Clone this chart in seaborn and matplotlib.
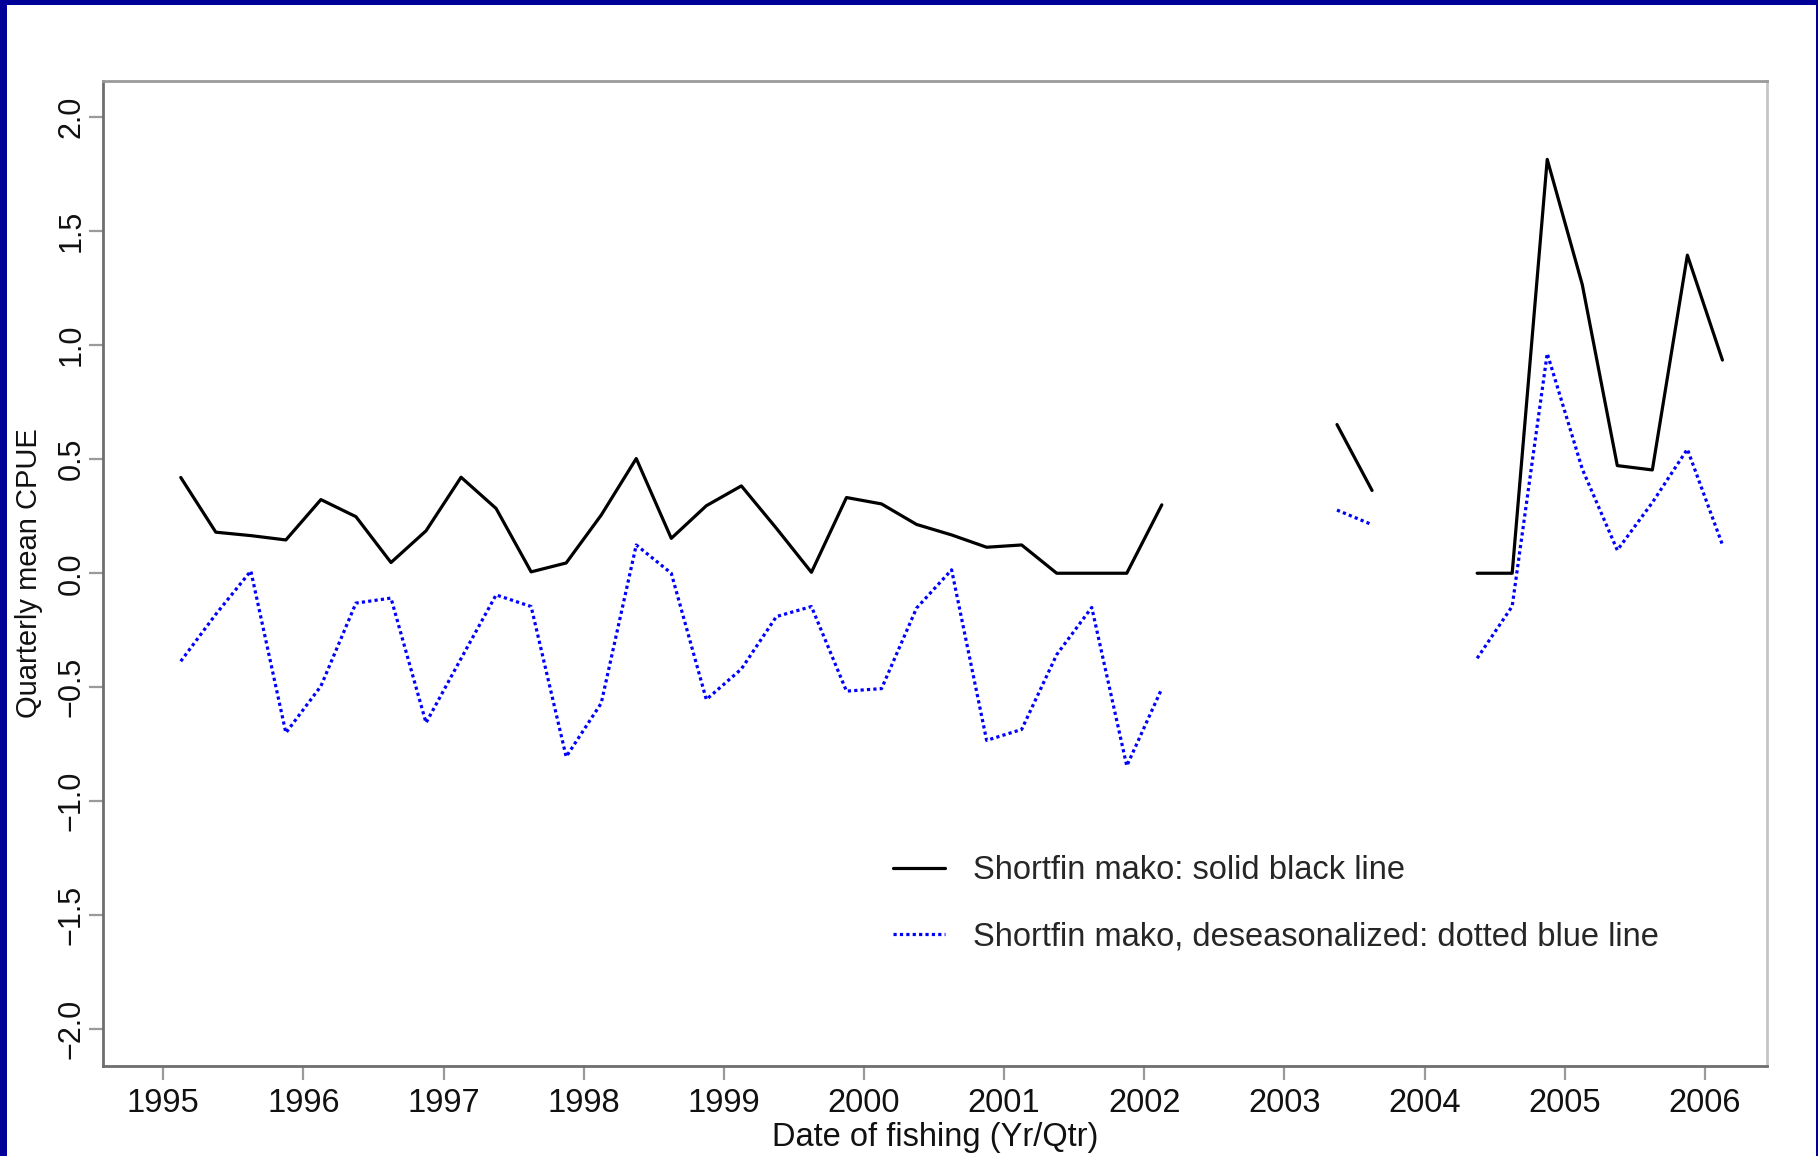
import numpy as np
import pandas as pd
import matplotlib
matplotlib.use("Agg")
import matplotlib.pyplot as plt
from matplotlib.lines import Line2D
from matplotlib.patches import Rectangle
import seaborn as sns

# ---------------- data ----------------
quarter_dates = [
    1995.125, 1995.375, 1995.625, 1995.875,
    1996.125, 1996.375, 1996.625, 1996.875,
    1997.125, 1997.375, 1997.625, 1997.875,
    1998.125, 1998.375, 1998.625, 1998.875,
    1999.125, 1999.375, 1999.625, 1999.875,
    2000.125, 2000.375, 2000.625, 2000.875,
    2001.125, 2001.375, 2001.625, 2001.875,
    2002.125, 2002.375, 2002.625, 2002.875,
    2003.125, 2003.375, 2003.625, 2003.875,
    2004.125, 2004.375, 2004.625, 2004.875,
    2005.125, 2005.375, 2005.625, 2005.875,
    2006.125,
]
nan = np.nan
cpue_raw = [
    0.42, 0.18, 0.165, 0.146,
    0.323, 0.248, 0.047, 0.186,
    0.421, 0.284, 0.006, 0.045,
    0.255, 0.503, 0.153, 0.296,
    0.383, 0.197, 0.004, 0.332,
    0.304, 0.214, 0.168, 0.114,
    0.124, 0.0, 0.0, 0.0,
    0.30, nan, nan, nan,
    nan, 0.652, 0.363, nan,
    nan, 0.0, 0.0, 1.815,
    1.266, 0.472, 0.453, 1.395,
    0.935,
]
cpue_deseason = [
    -0.386, -0.18, 0.01, -0.70,
    -0.495, -0.131, -0.109, -0.656,
    -0.374, -0.095, -0.146, -0.805,
    -0.57, 0.124, 0.0, -0.554,
    -0.42, -0.19, -0.146, -0.517,
    -0.506, -0.153, 0.015, -0.733,
    -0.685, -0.357, -0.15, -0.845,
    -0.506, nan, nan, nan,
    nan, 0.277, 0.213, nan,
    nan, -0.373, -0.145, 0.964,
    0.457, 0.101, 0.31, 0.544,
    0.125,
]
x_ticks = [1995, 1996, 1997, 1998, 1999, 2000, 2001, 2002, 2003, 2004, 2005, 2006]
y_ticks = [-2.0, -1.5, -1.0, -0.5, 0.0, 0.5, 1.0, 1.5, 2.0]
legend_labels = ["Shortfin mako: solid black line",
                 "Shortfin mako, deseasonalized: dotted blue line"]


def to_frame(values):
    df = pd.DataFrame({"date": quarter_dates, "value": values})
    gap = df["value"].isna()
    df["segment"] = gap.cumsum()
    return df[~gap].reset_index(drop=True)


df_raw = to_frame(cpue_raw)
df_des = to_frame(cpue_deseason)

# ---------------- style ----------------
sns.set_style("white")
plt.rcParams["font.family"] = ["Liberation Sans", "DejaVu Sans"]
FS = 23.5

W, H = 1818, 1156
fig = plt.figure(figsize=(W / 100, H / 100), dpi=100)
fig.patch.set_facecolor("#000099")
fig.add_artist(Rectangle((7 / W, 0), (W - 9) / W, (H - 5) / H,
                         transform=fig.transFigure, facecolor="white",
                         edgecolor="none", zorder=-5))

ax = fig.add_axes([102.7 / W, 1 - 1066 / H, (1766.7 - 102.7) / W, (1066 - 80.7) / H])
ax.set_facecolor("white")

BLUE = "#0000ff"
sns.lineplot(data=df_raw, x="date", y="value", units="segment", estimator=None,
             color="black", linewidth=2.3, ax=ax, legend=False)
sns.lineplot(data=df_des, x="date", y="value", units="segment", estimator=None,
             color=BLUE, linewidth=2.3, linestyle=(0, (1, 1.0)), ax=ax, legend=False)

ax.set_xlim(1994.568, 2006.441)
ax.set_ylim(-2.161, 2.160)
ax.set_xticks(x_ticks)
ax.set_xticklabels([str(t) for t in x_ticks])
ax.set_yticks(y_ticks)
ax.set_yticklabels([f"{t:.1f}".replace("-", "\u2212") for t in y_ticks],
                   rotation=90, va="center")

ax.tick_params(axis="both", which="major", direction="out", length=10, width=1.6,
               color="#9a9a9a", labelcolor="#111111",
               bottom=True, left=True, top=False, right=False)
ax.tick_params(axis="x", pad=6, labelsize=FS)
ax.tick_params(axis="y", pad=1.5, labelsize=22)

for side, col in {"left": "#6e6e6e", "bottom": "#6e6e6e",
                  "top": "#9a9a9a", "right": "#c6c6c6"}.items():
    ax.spines[side].set_visible(True)
    ax.spines[side].set_color(col)
    ax.spines[side].set_linewidth(2.0)

ax.set_xlabel("Date of fishing (Yr/Qtr)", fontsize=FS, color="#111111", labelpad=2)
ax.set_ylabel("Quarterly mean CPUE", fontsize=21, color="#111111", labelpad=10)

handles = [Line2D([], [], color="black", linewidth=2.3),
           Line2D([], [], color=BLUE, linewidth=2.3, linestyle=(0, (1, 1.0)))]
ax.legend(handles, legend_labels, loc="upper left",
          bbox_to_anchor=((893 - 102.7) / (1766.7 - 102.7), (1066 - 855) / (1066 - 80.7)),
          frameon=False, fontsize=FS, handlelength=1.6, handletextpad=0.85,
          labelspacing=1.09, borderpad=0, borderaxespad=0)

fig.savefig("out.png", dpi=100, facecolor=fig.get_facecolor())
